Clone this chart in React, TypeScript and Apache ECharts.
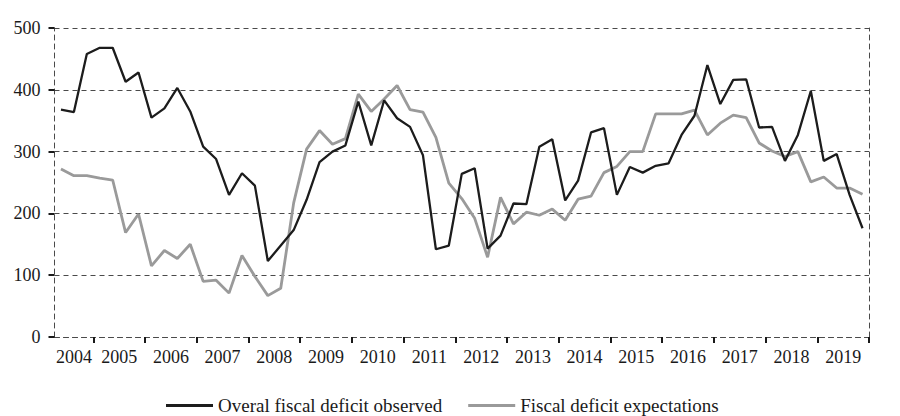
import React, { useEffect, useRef } from "react";
import * as echarts from "echarts";

// Quarterly observations: 2004 Q2 .. 2019 Q4
const firstYear = 2004;
const lastYear = 2019;
const firstYearQuarters = ["Q2", "Q3", "Q4"];
const quarters = ["Q1", "Q2", "Q3", "Q4"];

const observedDeficit = [
  368, 364, 458, 468, 468, 413, 428, 355, 370, 403, 365, 308, 288, 230, 265, 245,
  123, 148, 173, 222, 283, 300, 310, 381, 310, 383, 354, 340, 294, 142, 148, 264,
  273, 143, 164, 216, 215, 308, 320, 221, 253, 331, 338, 230, 275, 266, 277, 281,
  327, 358, 440, 377, 416, 417, 339, 340, 285, 327, 398, 285, 296, 230, 176,
];

const expectedDeficit = [
  272, 261, 261, 257, 254, 169, 199, 115, 140, 127, 150, 90, 92, 71, 132, 98,
  67, 79, 217, 304, 334, 312, 321, 393, 365, 385, 407, 368, 364, 323, 249, 224,
  192, 129, 226, 183, 202, 197, 207, 189, 223, 228, 266, 276, 300, 300, 361, 361,
  361, 367, 327, 346, 359, 355, 314, 301, 292, 300, 251, 259, 241, 241, 231,
];

const seriesNames = ["Overal fiscal deficit observed", "Fiscal deficit expectations"];
const yTicks = [0, 100, 200, 300, 400, 500];

const categories: string[] = [];
firstYearQuarters.forEach((q) => categories.push(`${firstYear} ${q}`));
for (let y = firstYear + 1; y <= lastYear; y++) {
  quarters.forEach((q) => categories.push(`${y} ${q}`));
}

const FONT = "'Liberation Serif', 'Times New Roman', serif";
const DASH = [5, 4];
const GRIDC = "#4a4a4a";

export default function App() {
  const ref = useRef<HTMLDivElement>(null);
  useEffect(() => {
    if (!ref.current) return;
    const chart = echarts.init(ref.current, undefined, { renderer: "svg" });
    const offset = firstYearQuarters.length; // index where 2005 starts
    chart.setOption({
      animation: false,
      backgroundColor: "#ffffff",
      textStyle: { fontFamily: FONT },
      grid: { left: 54.5, right: 31, top: 28, bottom: 79, containLabel: false },
      legend: {
        left: 161,
        top: 391,
        icon: "rect",
        itemWidth: 47,
        itemHeight: 3,
        itemGap: 26,
        textStyle: { fontFamily: FONT, fontSize: 19, color: "#1a1a1a" },
        data: seriesNames,
      },
      xAxis: {
        type: "category",
        data: categories,
        boundaryGap: true,
        axisLine: { show: true, lineStyle: { color: GRIDC, width: 1, type: DASH } },
        axisTick: {
          show: true,
          length: 6,
          lineStyle: { color: "#1a1a1a", width: 2 },
          interval: (i: number) => i >= offset && (i - offset) % 4 === 0,
        },
        axisLabel: {
          show: true,
          margin: 11,
          fontFamily: FONT,
          fontSize: 18,
          color: "#1a1a1a",
          interval: (i: number) => i === 1 || (i >= offset + 1 && (i - offset - 1) % 4 === 0),
          formatter: (v: string) => {
            const yr = v.slice(0, 4);
            return yr === String(firstYear) ? `{a|${yr}}` : `{b|${yr}}`;
          },
          rich: {
            a: { fontFamily: FONT, fontSize: 18, color: "#1a1a1a" },
            b: { fontFamily: FONT, fontSize: 18, color: "#1a1a1a", padding: [0, 0, 0, 13] },
          },
        },
        splitLine: { show: false },
      },
      yAxis: [
        {
          type: "value",
          min: yTicks[0],
          max: yTicks[yTicks.length - 1],
          interval: 100,
          axisLine: { show: true, lineStyle: { color: GRIDC, width: 1, type: DASH } },
          axisTick: { show: true, length: 6, lineStyle: { color: "#1a1a1a", width: 2 } },
          axisLabel: { margin: 14, fontFamily: FONT, fontSize: 18, color: "#1a1a1a" },
          splitLine: { show: true, lineStyle: { color: GRIDC, width: 1, type: DASH } },
        },
        {
          type: "value",
          position: "right",
          min: yTicks[0],
          max: yTicks[yTicks.length - 1],
          interval: 100,
          axisLine: { show: true, lineStyle: { color: GRIDC, width: 1, type: DASH } },
          axisTick: { show: false },
          axisLabel: { show: false },
          splitLine: { show: false },
        },
      ],
      series: [
        {
          name: seriesNames[0],
          type: "line",
          data: observedDeficit,
          symbol: "none",
          color: "#1c1c1c",
          lineStyle: { color: "#1c1c1c", width: 2.3 },
          z: 3,
        },
        {
          name: seriesNames[1],
          type: "line",
          data: expectedDeficit,
          symbol: "none",
          color: "#9a9a9a",
          lineStyle: { color: "#9a9a9a", width: 2.8 },
          z: 2,
        },
      ],
    });
    return () => chart.dispose();
  }, []);
  return (
    <div
      ref={ref}
      style={{ position: "fixed", left: 0, top: 0, width: 900, height: 416, background: "#fff" }}
    />
  );
}
